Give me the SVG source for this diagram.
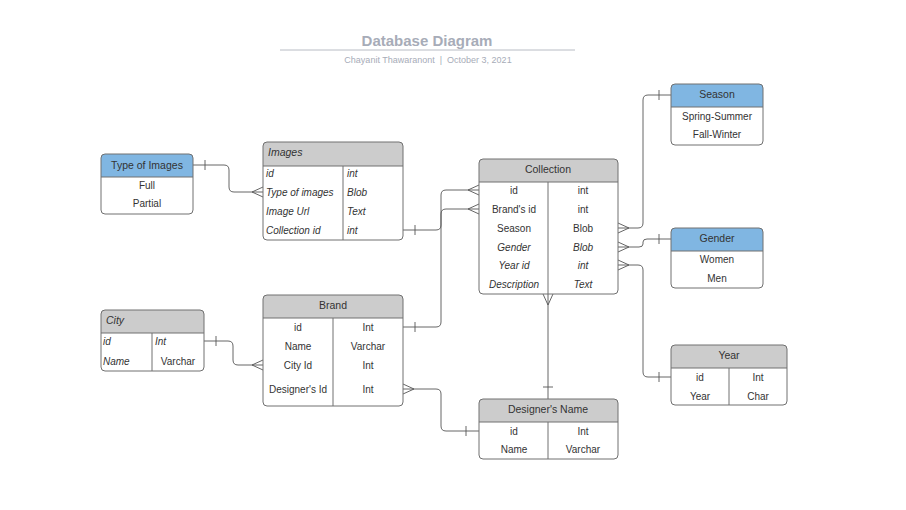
<svg xmlns="http://www.w3.org/2000/svg" width="906" height="510" viewBox="0 0 906 510">
<style>
.box{fill:none;stroke:#707070;stroke-width:1}
.bg{fill:#ffffff}
.hg{fill:#cccccc}
.hb{fill:#80b6e2}
.ln{fill:none;stroke:#707070;stroke-width:1}
.t{font-family:"Liberation Sans",Arial,sans-serif;font-size:10px;fill:#333333}
.h{font-family:"Liberation Sans",Arial,sans-serif;font-size:10.5px;fill:#333333}
.c{text-anchor:middle}
.i{font-style:italic}
.cn{fill:none;stroke:#555555;stroke-width:0.9}
</style>
<rect width="906" height="510" fill="#ffffff"/>
<g id="title">
<text x="427" y="46" text-anchor="middle" font-family="'Liberation Sans',Arial,sans-serif" font-size="15" font-weight="bold" fill="#a7acb8">Database Diagram</text>
<line x1="280" y1="50" x2="575" y2="50" stroke="#b8bcc4" stroke-width="1"/>
<text x="428" y="63" text-anchor="middle" font-family="'Liberation Sans',Arial,sans-serif" font-size="9" fill="#a7acb8" xml:space="preserve" style="white-space:pre">Chayanit Thawaranont  |  October 3, 2021</text>
</g>
<g id="connectors">
<path class="cn" d="M193,165 H224 Q229,165 229,170 V187 Q229,192 234,192 H263 M205,160 V170 M252,192 L263,187 M252,192 L263,197"/>
<path class="cn" d="M403,230 H436 Q441,230 441,225 V195 Q441,190 446,190 H479 M415,225 V235 M468,190 L479,185 M468,190 L479,195"/>
<path class="cn" d="M403,327 H436 Q441,327 441,322 V214 Q441,209 446,209 H479 M415,322 V332 M468,209 L479,204 M468,209 L479,214"/>
<path class="cn" d="M618,228 H638 Q643,228 643,223 V100 Q643,95 648,95 H671 M659,90 V100 M629,228 L618,223 M629,228 L618,233"/>
<path class="cn" d="M618,247 H639 Q643,247 643,244 V242 Q643,239 647,239 H671 M659,234 V244 M629,247 L618,242 M629,247 L618,252"/>
<path class="cn" d="M618,265 H638 Q643,265 643,270 V372 Q643,377 648,377 H671 M659,372 V382 M629,265 L618,260 M629,265 L618,270"/>
<path class="cn" d="M548,294 V399 M548,305 L543,294 M548,305 L553,294 M543,387 H553"/>
<path class="cn" d="M403,389 H436 Q441,389 441,394 V426 Q441,431 446,431 H479 M466,426 V436 M414,389 L403,384 M414,389 L403,394"/>
<path class="cn" d="M204,341 H228 Q233,341 233,346 V360 Q233,365 238,365 H263 M216,336 V346 M252,365 L263,360 M252,365 L263,370"/>
</g>
<g id="type-of-images">
<rect class="bg" x="101" y="154" width="92" height="60" rx="4"/>
<path class="hb" d="M101,177 V158 Q101,154 105,154 H189 Q193,154 193,158 V177 Z"/>
<line class="ln" x1="101" y1="177" x2="193" y2="177"/>
<rect class="box" x="101" y="154" width="92" height="60" rx="4"/>
<text class="h c" x="147" y="169">Type of Images</text>
<text class="t c" x="147" y="189">Full</text>
<text class="t c" x="147" y="207">Partial</text>
</g>
<g id="images">
<rect class="bg" x="263" y="142" width="140" height="98" rx="4"/>
<path class="hg" d="M263,166 V146 Q263,142 267,142 H399 Q403,142 403,146 V166 Z"/>
<line class="ln" x1="263" y1="166" x2="403" y2="166"/>
<line class="ln" x1="343" y1="166" x2="343" y2="240"/>
<rect class="box" x="263" y="142" width="140" height="98" rx="4"/>
<text class="h i" x="268" y="156">Images</text>
<text class="t i" x="266" y="177">id</text>
<text class="t i" x="347" y="177">int</text>
<text class="t i" x="266" y="196">Type of images</text>
<text class="t i" x="347" y="196">Blob</text>
<text class="t i" x="266" y="215">Image Url</text>
<text class="t i" x="347" y="215">Text</text>
<text class="t i" x="266" y="234" fill="#111">Collection id</text>
<text class="t i" x="347" y="234" fill="#111">int</text>
</g>
<g id="collection">
<rect class="bg" x="479" y="159" width="139" height="135" rx="4"/>
<path class="hg" d="M479,182 V163 Q479,159 483,159 H614 Q618,159 618,163 V182 Z"/>
<line class="ln" x1="479" y1="182" x2="618" y2="182"/>
<line class="ln" x1="548" y1="182" x2="548" y2="294"/>
<rect class="box" x="479" y="159" width="139" height="135" rx="4"/>
<text class="h c" x="548" y="173">Collection</text>
<text class="t c" x="514" y="194">id</text>
<text class="t c" x="583" y="194">int</text>
<text class="t c" x="514" y="213">Brand's id</text>
<text class="t c" x="583" y="213">int</text>
<text class="t c" x="514" y="232">Season</text>
<text class="t c" x="583" y="232">Blob</text>
<text class="t c i" x="514" y="251" fill="#111">Gender</text>
<text class="t c i" x="583" y="251" fill="#111">Blob</text>
<text class="t c i" x="514" y="269" fill="#111">Year id</text>
<text class="t c i" x="583" y="269" fill="#111">int</text>
<text class="t c i" x="514" y="288" fill="#111">Description</text>
<text class="t c i" x="583" y="288" fill="#111">Text</text>
</g>
<g id="season">
<rect class="bg" x="671" y="84" width="92" height="61" rx="4"/>
<path class="hb" d="M671,107 V88 Q671,84 675,84 H759 Q763,84 763,88 V107 Z"/>
<line class="ln" x1="671" y1="107" x2="763" y2="107"/>
<rect class="box" x="671" y="84" width="92" height="61" rx="4"/>
<text class="h c" x="717" y="98">Season</text>
<text class="t c" x="717" y="120">Spring-Summer</text>
<text class="t c" x="717" y="138">Fall-Winter</text>
</g>
<g id="gender">
<rect class="bg" x="671" y="228" width="92" height="60" rx="4"/>
<path class="hb" d="M671,251 V232 Q671,228 675,228 H759 Q763,228 763,232 V251 Z"/>
<line class="ln" x1="671" y1="251" x2="763" y2="251"/>
<rect class="box" x="671" y="228" width="92" height="60" rx="4"/>
<text class="h c" x="717" y="242">Gender</text>
<text class="t c" x="717" y="263">Women</text>
<text class="t c" x="717" y="282">Men</text>
</g>
<g id="city">
<rect class="bg" x="101" y="310" width="103" height="61" rx="4"/>
<path class="hg" d="M101,333 V314 Q101,310 105,310 H200 Q204,310 204,314 V333 Z"/>
<line class="ln" x1="101" y1="333" x2="204" y2="333"/>
<line class="ln" x1="152" y1="333" x2="152" y2="371"/>
<rect class="box" x="101" y="310" width="103" height="61" rx="4"/>
<text class="h i" x="106" y="324">City</text>
<text class="t i" x="103" y="345">id</text>
<text class="t i" x="155" y="345">Int</text>
<text class="t i" x="103" y="365">Name</text>
<text class="t c" x="178" y="365">Varchar</text>
</g>
<g id="brand">
<rect class="bg" x="263" y="295" width="140" height="111" rx="4"/>
<path class="hg" d="M263,318 V299 Q263,295 267,295 H399 Q403,295 403,299 V318 Z"/>
<line class="ln" x1="263" y1="318" x2="403" y2="318"/>
<line class="ln" x1="333" y1="318" x2="333" y2="406"/>
<rect class="box" x="263" y="295" width="140" height="111" rx="4"/>
<text class="h c" x="333" y="309">Brand</text>
<text class="t c" x="298" y="331">id</text>
<text class="t c" x="368" y="331">Int</text>
<text class="t c" x="298" y="350">Name</text>
<text class="t c" x="368" y="350">Varchar</text>
<text class="t c" x="298" y="369">City Id</text>
<text class="t c" x="368" y="369">Int</text>
<text class="t c" x="298" y="393">Designer's Id</text>
<text class="t c" x="368" y="393">Int</text>
</g>
<g id="designers-name">
<rect class="bg" x="479" y="399" width="139" height="60" rx="4"/>
<path class="hg" d="M479,422 V403 Q479,399 483,399 H614 Q618,399 618,403 V422 Z"/>
<line class="ln" x1="479" y1="422" x2="618" y2="422"/>
<line class="ln" x1="548" y1="422" x2="548" y2="459"/>
<rect class="box" x="479" y="399" width="139" height="60" rx="4"/>
<text class="h c" x="548" y="413">Designer's Name</text>
<text class="t c" x="514" y="435">id</text>
<text class="t c" x="583" y="435">Int</text>
<text class="t c" x="514" y="453">Name</text>
<text class="t c" x="583" y="453">Varchar</text>
</g>
<g id="year">
<rect class="bg" x="671" y="345" width="116" height="60" rx="4"/>
<path class="hg" d="M671,368 V349 Q671,345 675,345 H783 Q787,345 787,349 V368 Z"/>
<line class="ln" x1="671" y1="368" x2="787" y2="368"/>
<line class="ln" x1="729" y1="368" x2="729" y2="405"/>
<rect class="box" x="671" y="345" width="116" height="60" rx="4"/>
<text class="h c" x="729" y="359">Year</text>
<text class="t c" x="700" y="381">id</text>
<text class="t c" x="758" y="381">Int</text>
<text class="t c" x="700" y="400">Year</text>
<text class="t c" x="758" y="400">Char</text>
</g>
</svg>
